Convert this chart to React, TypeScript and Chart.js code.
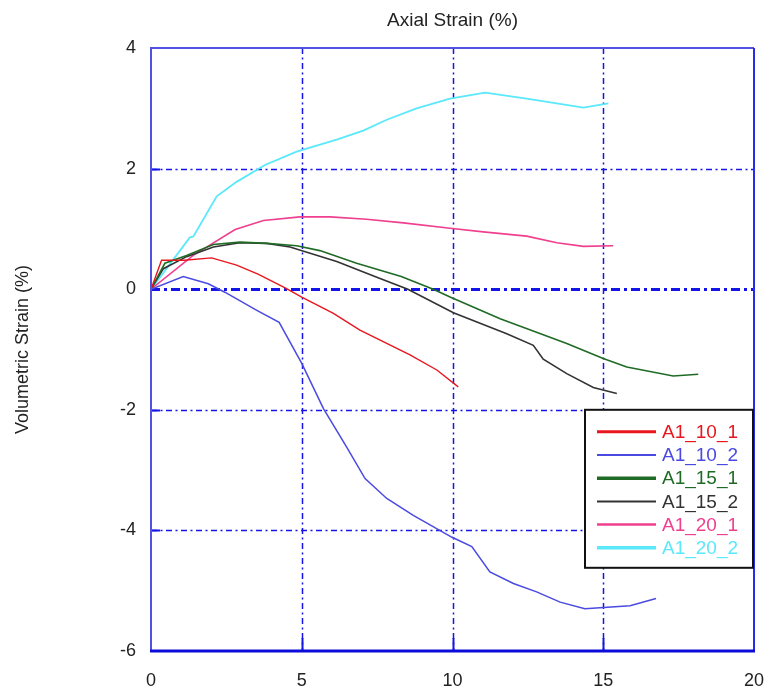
import React, { useEffect, useRef } from "react";
import { Chart, registerables } from "chart.js";

Chart.register(...registerables);

// ---- data ----
const xTicks = [0, 5, 10, 15, 20];
const yTicks = [4, 2, 0, -2, -4, -6];
const seriesNames = ["A1_10_1", "A1_10_2", "A1_15_1", "A1_15_2", "A1_20_1", "A1_20_2"];
const seriesColors = ["#e8161e", "#4a4ae2", "#1f6b25", "#333333", "#ef3f8e", "#5ae8fb"];
const plotWidths = [1.4, 1.5, 1.6, 1.6, 1.6, 1.8];
const legendWidths = [3, 2, 3.5, 2, 2.5, 3.5];

const a1_10_1_x = [0, 0.35, 1.1, 2.01, 2.84, 3.55, 4.45, 5.0, 6.05, 6.93, 8.59, 9.48, 10.19];
const a1_10_1_y = [0, 0.48, 0.48, 0.52, 0.4, 0.25, 0.02, -0.13, -0.4, -0.68, -1.09, -1.34, -1.62];

const a1_10_2_x = [0, 1.07, 1.9, 2.45, 3.51, 4.25, 5.0, 5.72, 6.49, 7.1, 7.82, 8.7, 9.97, 10.64, 11.24, 12.02, 12.79, 13.57, 14.39, 15.89, 16.75];
const a1_10_2_y = [0, 0.21, 0.09, -0.05, -0.35, -0.55, -1.23, -1.98, -2.62, -3.14, -3.47, -3.75, -4.11, -4.27, -4.69, -4.88, -5.02, -5.19, -5.3, -5.25, -5.13];

const a1_15_1_x = [0, 0.46, 1.18, 2.07, 2.95, 3.84, 4.83, 5.6, 6.82, 8.3, 9.36, 9.92, 11.58, 13.79, 15.0, 15.78, 17.32, 18.15];
const a1_15_1_y = [0, 0.43, 0.56, 0.74, 0.78, 0.76, 0.72, 0.64, 0.43, 0.21, 0.0, -0.13, -0.49, -0.9, -1.15, -1.29, -1.44, -1.41];

const a1_15_2_x = [0, 0.41, 1.18, 2.07, 2.95, 3.84, 4.61, 6.16, 7.49, 8.52, 10.03, 11.8, 12.68, 13.01, 13.79, 14.67, 15.45];
const a1_15_2_y = [0, 0.34, 0.54, 0.7, 0.77, 0.76, 0.7, 0.46, 0.2, 0.0, -0.39, -0.74, -0.93, -1.16, -1.4, -1.63, -1.73];

const a1_20_1_x = [0, 1.4, 2.79, 3.73, 4.94, 5.94, 7.15, 8.37, 9.92, 11.02, 12.46, 13.46, 14.34, 15.33];
const a1_20_1_y = [0, 0.56, 0.99, 1.14, 1.2, 1.2, 1.16, 1.1, 1.01, 0.95, 0.88, 0.77, 0.71, 0.72];

const a1_20_2_x = [0, 1.29, 1.4, 2.18, 2.84, 3.78, 4.83, 6.16, 7.04, 7.82, 8.81, 9.92, 11.08, 12.46, 14.34, 15.17];
const a1_20_2_y = [0, 0.86, 0.87, 1.54, 1.78, 2.06, 2.28, 2.48, 2.63, 2.81, 3.0, 3.16, 3.26, 3.16, 3.01, 3.08];

const seriesX = [a1_10_1_x, a1_10_2_x, a1_15_1_x, a1_15_2_x, a1_20_1_x, a1_20_2_x];
const seriesY = [a1_10_1_y, a1_10_2_y, a1_15_1_y, a1_15_2_y, a1_20_1_y, a1_20_2_y];

const FONT = '"Liberation Sans", Arial, sans-serif';

const gridPlugin = {
  id: "dashGrid",
  beforeDatasetsDraw(chart: any) {
    const { ctx, chartArea, scales } = chart;
    const { left, right, top, bottom } = chartArea;
    const x = scales.x;
    const y = scales.y;
    ctx.save();
    ctx.strokeStyle = "#1414e6";
    xTicks.forEach((v) => {
      if (v === x.min || v === x.max) return;
      const px = Math.round(x.getPixelForValue(v)) + 0.5;
      ctx.setLineDash([6, 3.5, 2, 3.5]);
      ctx.lineWidth = 1.5;
      ctx.beginPath();
      ctx.moveTo(px, top);
      ctx.lineTo(px, bottom);
      ctx.stroke();
      ctx.setLineDash([]);
      ctx.lineWidth = 2;
      ctx.beginPath();
      ctx.moveTo(px, bottom);
      ctx.lineTo(px, bottom - 13);
      ctx.stroke();
    });
    yTicks.forEach((v) => {
      if (v === y.min || v === y.max) return;
      const py = Math.round(y.getPixelForValue(v)) + 0.5;
      if (v === 0) {
        ctx.setLineDash([9, 4, 3, 4]);
        ctx.lineWidth = 3;
      } else {
        ctx.setLineDash([6, 3.5, 2, 3.5]);
        ctx.lineWidth = 1.5;
      }
      ctx.beginPath();
      ctx.moveTo(left, py);
      ctx.lineTo(right, py);
      ctx.stroke();
      ctx.setLineDash([]);
      ctx.lineWidth = v === 0 ? 3 : 2;
      ctx.beginPath();
      ctx.moveTo(left, py);
      ctx.lineTo(left + 9, py);
      ctx.stroke();
    });
    ctx.restore();
  },
  afterDatasetsDraw(chart: any) {
    const { ctx, chartArea } = chart;
    const { left, right, top, bottom } = chartArea;
    ctx.save();
    ctx.setLineDash([]);
    ctx.lineWidth = 2;
    ctx.strokeStyle = "#5252e2";
    ctx.beginPath();
    ctx.moveTo(left, bottom);
    ctx.lineTo(left, top);
    ctx.lineTo(right, top);
    ctx.stroke();
    ctx.strokeStyle = "#2a2aee";
    ctx.beginPath();
    ctx.moveTo(right, top);
    ctx.lineTo(right, bottom);
    ctx.stroke();
    ctx.strokeStyle = "#0c0cda";
    ctx.lineWidth = 3;
    ctx.beginPath();
    ctx.moveTo(left - 1, bottom);
    ctx.lineTo(right + 1, bottom);
    ctx.stroke();
    ctx.restore();
  },
};

const boxLegendPlugin = {
  id: "boxLegend",
  afterDraw(chart: any) {
    const { ctx, chartArea, scales } = chart;
    const w = 168;
    const h = 158;
    const l = chartArea.right - w - 1;
    const t = scales.y.getPixelForValue(-2);
    ctx.save();
    ctx.fillStyle = "#ffffff";
    ctx.fillRect(l, t, w, h);
    ctx.strokeStyle = "#111111";
    ctx.lineWidth = 2;
    ctx.strokeRect(l, t, w, h);
    chart.data.datasets.forEach((ds: any, i: number) => {
      const cy = t + 22 + i * 23.2;
      ctx.strokeStyle = ds.borderColor;
      ctx.lineWidth = legendWidths[i];
      ctx.beginPath();
      ctx.moveTo(l + 12, cy);
      ctx.lineTo(l + 71, cy);
      ctx.stroke();
      ctx.fillStyle = ds.borderColor;
      ctx.font = `19px ${FONT}`;
      ctx.textBaseline = "middle";
      ctx.textAlign = "left";
      ctx.fillText(ds.label, l + 77, cy + 1);
    });
    ctx.restore();
  },
};

export default function App() {
  const ref = useRef<HTMLCanvasElement | null>(null);
  useEffect(() => {
    if (!ref.current) return;
    const datasets = seriesNames.map((name, i) => ({
      label: name,
      data: seriesX[i].map((xv, j) => ({ x: xv, y: seriesY[i][j] })),
      borderColor: seriesColors[i],
      backgroundColor: seriesColors[i],
      borderWidth: plotWidths[i],
      pointRadius: 0,
      tension: 0,
      fill: false,
    }));
    const chart = new Chart(ref.current, {
      type: "line",
      data: { datasets },
      plugins: [gridPlugin, boxLegendPlugin],
      options: {
        animation: false,
        responsive: false,
        layout: { padding: { left: 0, right: 15, top: 0, bottom: 0 } },
        plugins: { legend: { display: false }, tooltip: { enabled: false }, title: { display: false } },
        scales: {
          x: {
            type: "linear",
            position: "bottom",
            min: 0,
            max: 20,
            afterBuildTicks: (s: any) => {
              s.ticks = xTicks.map((v) => ({ value: v }));
            },
            afterFit: (s: any) => {
              s.height = 43;
              s.paddingLeft = 0;
              s.paddingRight = 0;
            },
            grid: { display: false, drawTicks: false },
            border: { display: false },
            ticks: { color: "#222", font: { family: FONT, size: 18 }, padding: 19, maxRotation: 0 },
          },
          xTop: {
            type: "linear",
            position: "top",
            min: 0,
            max: 20,
            afterFit: (s: any) => {
              s.height = 48;
              s.paddingLeft = 0;
              s.paddingRight = 0;
            },
            grid: { display: false, drawTicks: false },
            border: { display: false },
            ticks: { display: false },
            title: {
              display: true,
              text: "Axial Strain (%)",
              color: "#222",
              font: { family: FONT, size: 19 },
              padding: { top: 9, bottom: 0 },
            },
          },
          y: {
            type: "linear",
            position: "left",
            min: -6,
            max: 4,
            afterBuildTicks: (s: any) => {
              s.ticks = yTicks.map((v) => ({ value: v }));
            },
            afterFit: (s: any) => {
              s.width = 151;
              s.paddingTop = 0;
              s.paddingBottom = 0;
            },
            grid: { display: false, drawTicks: false },
            border: { display: false },
            ticks: { color: "#222", font: { family: FONT, size: 18 }, padding: 15 },
            title: {
              display: true,
              text: "Volumetric Strain (%)",
              color: "#222",
              font: { family: FONT, size: 18 },
              padding: { top: 12, bottom: 0 },
            },
          },
        },
      } as any,
    });
    return () => chart.destroy();
  }, []);
  return (
    <div style={{ position: "absolute", left: 0, top: 0, width: 769, height: 694, background: "#fff" }}>
      <canvas ref={ref} width={769} height={694} style={{ display: "block" }} />
    </div>
  );
}
